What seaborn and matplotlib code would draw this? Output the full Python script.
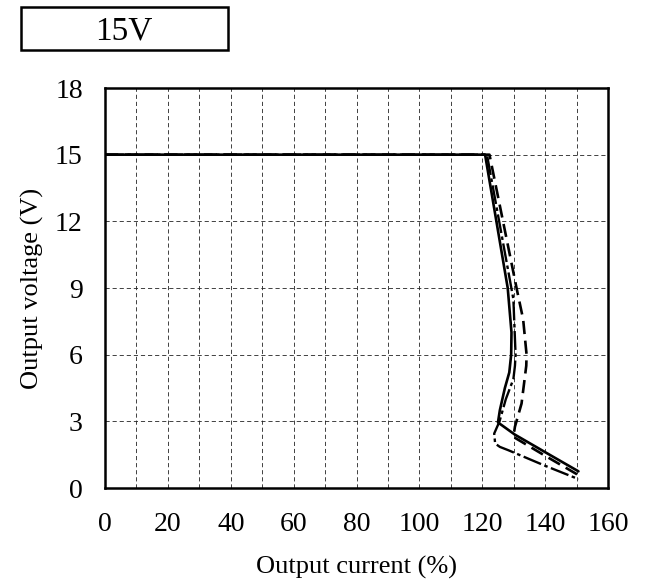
import matplotlib
matplotlib.use("Agg")
import matplotlib.pyplot as plt
import seaborn as sns
import pandas as pd
from matplotlib.patches import Rectangle

# Data
curve_solid_x = [0, 60, 120.9, 128.1, 129.3, 129.2, 128.6, 127.2, 125.6, 125.0, 130.4, 142.0, 150.6]
curve_solid_v = [15.0, 15.0, 15.0, 9.0, 7.0, 6.0, 5.2, 4.5, 3.5, 2.95, 2.4, 1.45, 0.75]

curve_dash_x = [0, 60, 122.3, 131.2, 133.0, 134.1, 134.0, 132.5, 130.4, 129.9, 140.0, 150.6]
curve_dash_v = [15.0, 15.0, 15.0, 8.8, 7.6, 6.0, 5.5, 3.8, 2.76, 2.3, 1.45, 0.58]

curve_dashdot_x = [0, 60, 121.5, 129.9, 130.6, 130.4, 129.9, 127.5, 125.5, 123.8, 124.1, 125.6, 128.3, 140.0, 150.6]
curve_dashdot_v = [15.0, 15.0, 15.0, 8.5, 6.0, 5.5, 4.9, 4.0, 3.0, 2.45, 2.0, 1.85, 1.7, 1.0, 0.4]

x_ticks = [0, 20, 40, 60, 80, 100, 120, 140, 160]
y_ticks = [0, 3, 6, 9, 12, 15, 18]
title_text = "15V"
x_label = "Output current (%)"
y_label = "Output voltage (V)"

sns.set_style("white")
plt.rcParams["font.family"] = ["Liberation Serif", "DejaVu Serif"]

fig = plt.figure(figsize=(6.46, 5.86), dpi=100)
W, H = 646, 586
ax = fig.add_axes([105 / W, 1 - 488 / H, (608 - 105) / W, (488 - 88) / H])

df_s = pd.DataFrame({"x": curve_solid_x, "v": curve_solid_v})
df_d = pd.DataFrame({"x": curve_dash_x, "v": curve_dash_v})
df_c = pd.DataFrame({"x": curve_dashdot_x, "v": curve_dashdot_v})

sns.lineplot(data=df_s, x="x", y="v", sort=False, estimator=None, ax=ax,
             color="black", linewidth=1.9)
sns.lineplot(data=df_d, x="x", y="v", sort=False, estimator=None, ax=ax,
             color="black", linewidth=1.9, linestyle=(0, (5, 2.5)))
sns.lineplot(data=df_c, x="x", y="v", sort=False, estimator=None, ax=ax,
             color="black", linewidth=1.7, linestyle=(0, (8, 1.5, 1.5, 1.5)))

ax.set_xlim(0, 160)
ax.set_ylim(0, 18)
ax.set_xticks(x_ticks)
ax.set_yticks(y_ticks)
ax.set_xticks(range(0, 161, 10), minor=True)
ax.grid(True, which="both", axis="x", color="#222222", linewidth=0.6, linestyle=(0, (5, 3.5)))
ax.grid(True, which="major", axis="y", color="#222222", linewidth=0.6, linestyle=(0, (5, 3.5)))
ax.tick_params(axis="both", which="both", length=0, labelsize=20, colors="black")
ax.tick_params(axis="x", pad=17)
ax.tick_params(axis="y", pad=16)
for s in ax.spines.values():
    s.set_visible(True)
    s.set_color("black")
    s.set_linewidth(1.8)

ax.set_xlabel(x_label, fontsize=19, labelpad=14, color="black")
ax.set_ylabel(y_label, fontsize=19, labelpad=8, color="black")

# Title box
fig.patches.append(Rectangle((20.7 / W, 1 - 50 / H), (228 - 20.7) / W, (50 - 7) / H,
                             transform=fig.transFigure, fill=False,
                             edgecolor="black", linewidth=1.8))
fig.text(124 / W, 1 - 31 / H, title_text, fontsize=24, ha="center", va="center", color="black")

fig.savefig("out.png", dpi=100)
